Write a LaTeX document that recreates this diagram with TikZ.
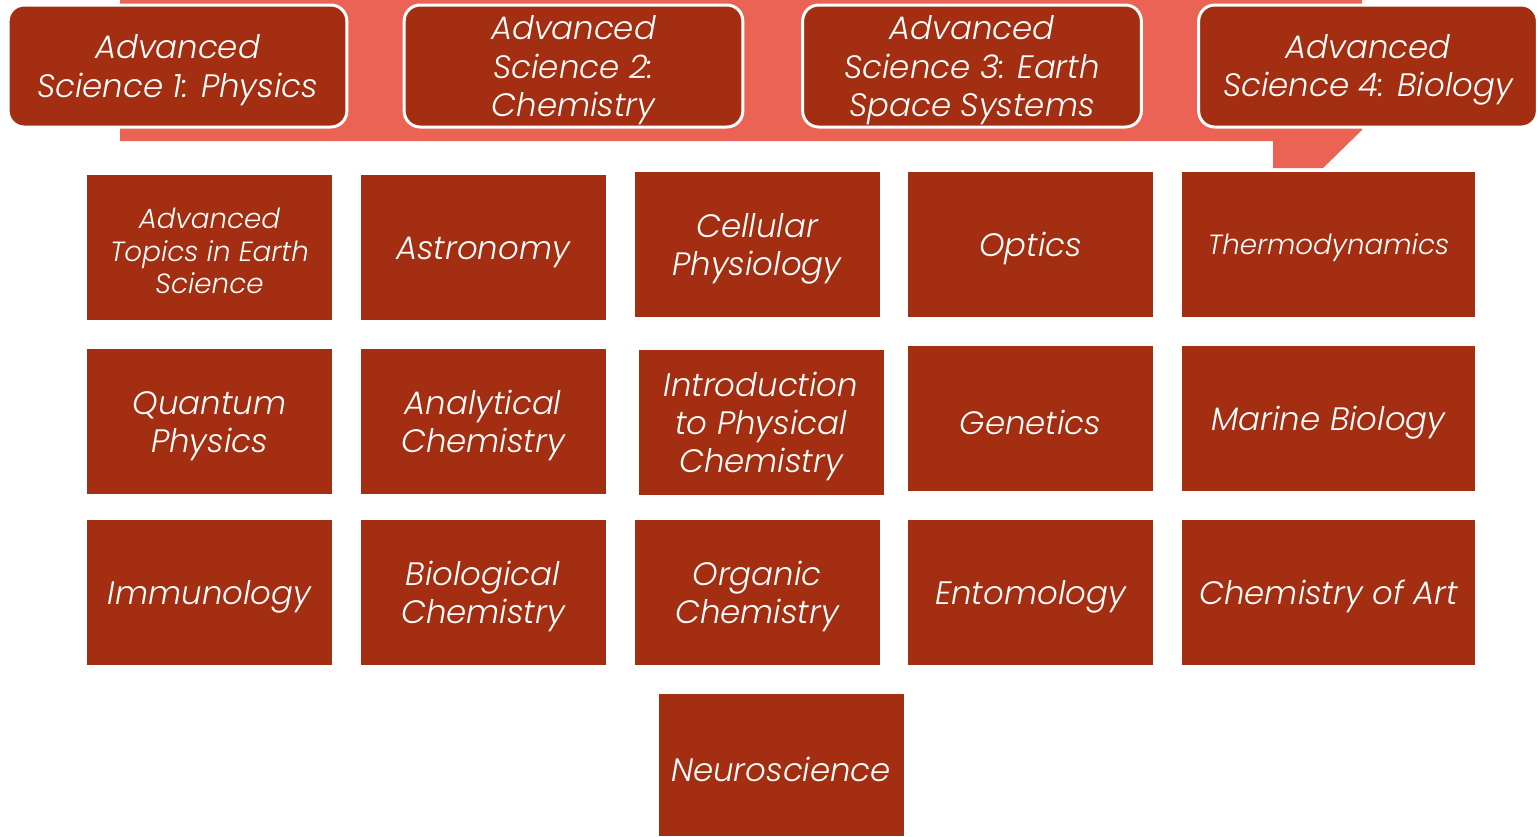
\documentclass[tikz,border=0pt]{standalone}
\usepackage{fontspec}
\setmainfont{Poppins}[ItalicFont={Poppins Light Italic}]
\definecolor{dark}{RGB}{164,46,17}
\definecolor{salmon}{RGB}{235,99,85}
\newcommand\mystrut{\rule{0pt}{1.0em}}
\tikzset{
  x=0.75pt, y=-0.75pt,
  txt/.style={text=white, align=center, font=\itshape\fontsize{24.3}{28.7}\selectfont},
  top/.style={txt, fill=dark, draw=white, line width=2.25pt, rounded corners=12pt,
    minimum width=254pt, minimum height=91.5pt, inner sep=0pt},
  cell/.style={txt, fill=dark, minimum width=183.75pt, minimum height=108.75pt, inner sep=0pt},
  wcell/.style={cell, minimum width=219.75pt},
  small/.style={font=\itshape\fontsize{20.8}{24.2}\selectfont},
}
\begin{document}
\begin{tikzpicture}
\useasboundingbox (0,0) rectangle (1538,836);
% backbone arrow
\fill[salmon] (120,0) -- (1362,0) -- (1362,130) -- (1323,168) -- (1273,168) -- (1273,141) -- (120,141) -- cycle;
% top boxes
\node[top] (t1) at (177.5,66) {\mystrut Advanced\\Science 1: Physics};
\node[top] (t2) at (573.5,66) {\mystrut Advanced\\Science 2:\\Chemistry};
\node[top] (t3) at (972,66) {\mystrut Advanced\\Science 3: Earth\\Space Systems};
\node[top] (t4) at (1368,66) {\mystrut Advanced\\Science 4: Biology};
% row 1
\node[cell, small] (a1) at (209.5,247.5) {\mystrut Advanced\\Topics in Earth\\Science};
\node[cell] (a2) at (483,247.5) {\mystrut Astronomy};
\node[cell] (a3) at (757,244.5) {\mystrut Cellular\\Physiology};
\node[cell] (a4) at (1030.5,244.5) {\mystrut Optics};
\node[wcell, small] (a5) at (1328.5,244.5) {\mystrut Thermodynamics};
% row 2
\node[cell] (b1) at (209.5,421.5) {\mystrut Quantum\\Physics};
\node[cell] (b2) at (483,421.5) {\mystrut Analytical\\Chemistry};
\node[cell] (b3) at (761,422.5) {\mystrut Introduction\\to Physical\\Chemistry};
\node[cell] (b4) at (1030.5,418.5) {\mystrut Genetics};
\node[wcell] (b5) at (1328.5,418.5) {\mystrut Marine Biology};
% row 3
\node[cell] (c1) at (209.5,592.5) {\mystrut Immunology};
\node[cell] (c2) at (483,592.5) {\mystrut Biological\\Chemistry};
\node[cell] (c3) at (757,592.5) {\mystrut Organic\\Chemistry};
\node[cell] (c4) at (1030.5,592.5) {\mystrut Entomology};
\node[wcell] (c5) at (1328.5,592.5) {\mystrut Chemistry of Art};
% row 4
\node[cell, minimum height=106.5pt] (d3) at (781,765) {\mystrut Neuroscience};
\end{tikzpicture}
\end{document}
